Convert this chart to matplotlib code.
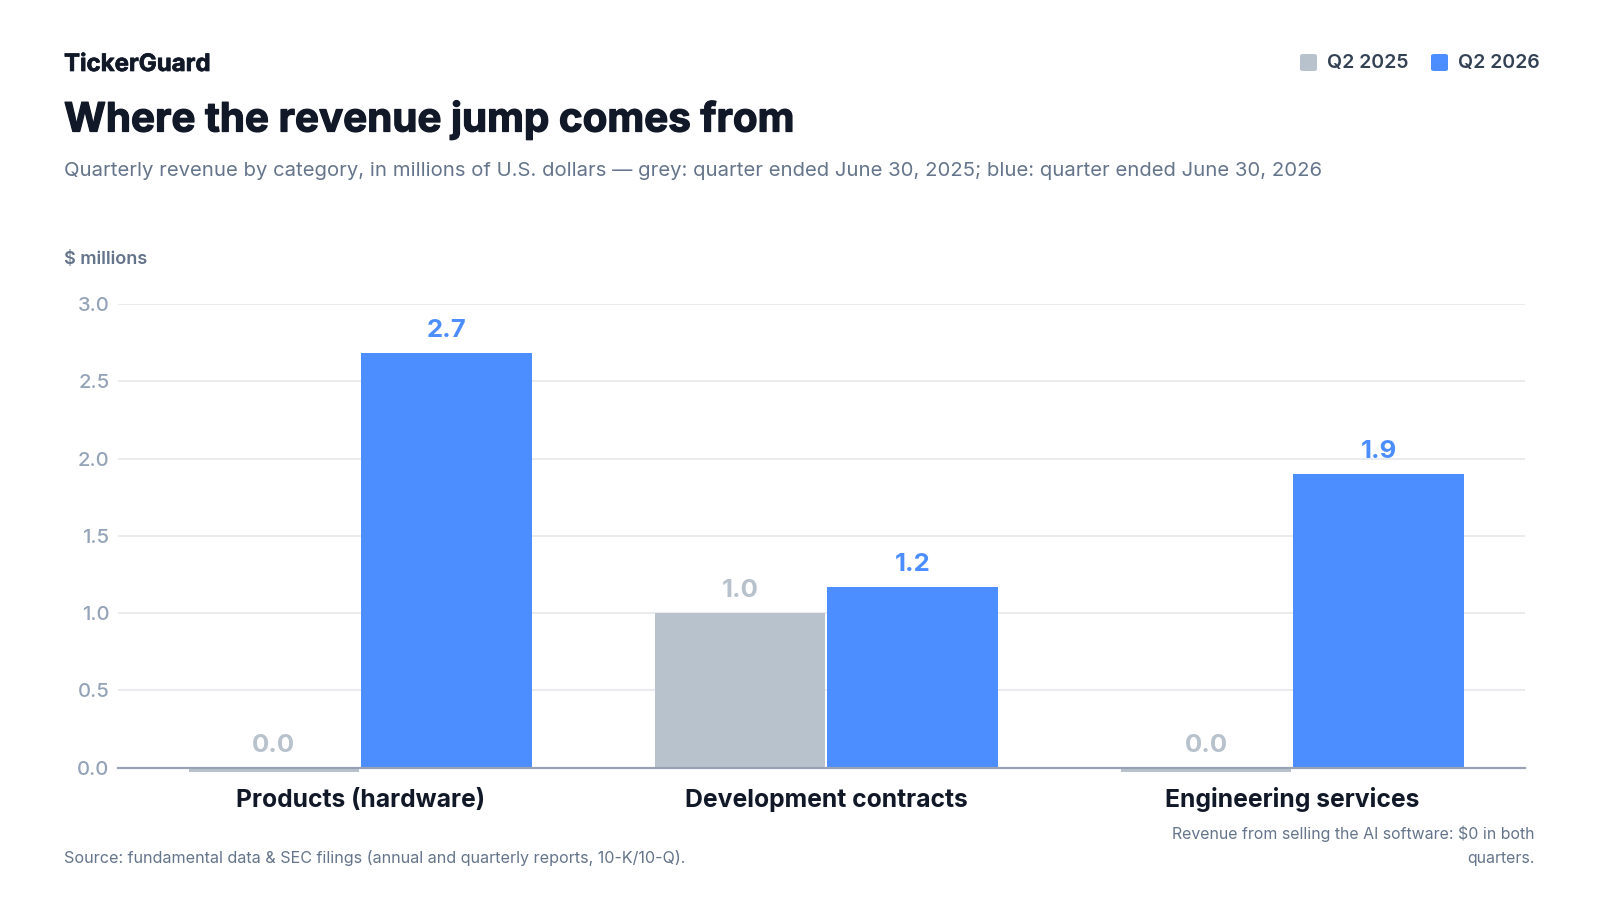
import matplotlib
matplotlib.use("Agg")
import matplotlib.pyplot as plt
import matplotlib.patheffects as pe
import numpy as np

categories = ["Products (hardware)", "Development contracts", "Engineering services"]
q2_2025 = [0.0, 1.0, 0.0]
q2_2026 = [2.68, 1.17, 1.9]
series_names = ["Q2 2025", "Q2 2026"]
yticks = [0.0, 0.5, 1.0, 1.5, 2.0, 2.5, 3.0]

GREY = "#B8C2CC"
BLUE = "#4C8DFF"
DARK = "#111827"
MUTED = "#64748B"
TICK = "#94A3B8"

plt.rcParams["font.family"] = ["Inter", "DejaVu Sans"]

fig = plt.figure(figsize=(16, 9), dpi=100)
ax = fig.add_axes([0.0736, 0.147, 0.8798, 0.5153])

x = np.arange(len(categories))
w = 0.366
gap = 0.0022
# zero values are shown as a thin stub just below the baseline
stub = 0.03
grey_disp = [v if v > 0 else -stub for v in q2_2025]
blue_disp = [v if v > 0 else -stub for v in q2_2026]
b1 = ax.bar(x - w / 2 - gap, grey_disp, width=w, color=GREY, linewidth=0, zorder=2)
b2 = ax.bar(x + w / 2 + gap, blue_disp, width=w, color=BLUE, linewidth=0, zorder=2)
for r in list(b1) + list(b2):
    r.set_clip_on(False)

for rects, vals, col in ((b1, q2_2025, GREY), (b2, q2_2026, BLUE)):
    for rect, v in zip(rects, vals):
        ax.annotate(f"{v:.1f}", (rect.get_x() + rect.get_width() / 2, max(v, 0)), xytext=(0, 8),
                    textcoords="offset points", ha="center", va="bottom",
                    fontsize=18.5, fontweight="bold", color=col, annotation_clip=False)

ax.set_xlim(-0.52, 2.5)
ax.set_ylim(0, 3.0)
ax.set_yticks(yticks)
ax.set_yticklabels([f"{t:.1f}" for t in yticks])
ax.tick_params(axis="y", length=0, pad=6, labelsize=14.6, labelcolor=TICK)
for lab in ax.get_yticklabels():
    lab.set_fontweight("medium")
ax.set_xticks(x)
ax.set_xticklabels(categories)
ax.tick_params(axis="x", length=0, pad=28.5, labelsize=17.8, labelcolor=DARK)
for lab in ax.get_xticklabels():
    lab.set_fontweight("bold")
    lab.set_verticalalignment("baseline")
ax.grid(axis="y", color="#E5E7EB", linewidth=1.2, zorder=0)
ax.set_axisbelow(True)
for s in ["top", "right", "left"]:
    ax.spines[s].set_visible(False)
ax.spines["bottom"].set_color("#98A2B3")
ax.spines["bottom"].set_linewidth(1.6)
ax.spines["bottom"].set_zorder(3)

# Header texts
fig.text(0.04, 1 - 71 / 900, "TickerGuard", fontsize=17.3, fontweight="bold", color=DARK, va="baseline", ha="left",
         path_effects=[pe.withStroke(linewidth=0.5, foreground=DARK)])
fig.text(0.04, 1 - 131.5 / 900, "Where the revenue jump comes from", fontsize=29.05, fontweight="bold",
         color=DARK, va="baseline", ha="left",
         path_effects=[pe.withStroke(linewidth=0.9, foreground=DARK)])
fig.text(0.04, 1 - 171 / 900,
         "Quarterly revenue by category, in millions of U.S. dollars \u2014 grey: quarter ended June 30, 2025; blue: quarter ended June 30, 2026",
         fontsize=14.6, color=MUTED, va="center", ha="left")
fig.text(0.04, 1 - 259 / 900, "$ millions", fontsize=13, fontweight="semibold", color=MUTED, va="center", ha="left")

# Legend
fig.patches.append(matplotlib.patches.FancyBboxPatch((1300 / 1600, 1 - 71 / 900), 17 / 1600, 17 / 900,
                   boxstyle="round,pad=0,rounding_size=0.002", transform=fig.transFigure,
                   facecolor=GREY, edgecolor="none"))
fig.text(1327 / 1600, 1 - 63 / 900, series_names[0], fontsize=14, fontweight="semibold", color="#334155", va="center", ha="left")
fig.patches.append(matplotlib.patches.FancyBboxPatch((1431 / 1600, 1 - 71 / 900), 17 / 1600, 17 / 900,
                   boxstyle="round,pad=0,rounding_size=0.002", transform=fig.transFigure,
                   facecolor=BLUE, edgecolor="none"))
fig.text(1458 / 1600, 1 - 63 / 900, series_names[1], fontsize=14, fontweight="semibold", color="#334155", va="center", ha="left")

# Footer
fig.text(0.04, 1 - 858 / 900, "Source: fundamental data & SEC filings (annual and quarterly reports, 10-K/10-Q).",
         fontsize=11.6, color=MUTED, va="center", ha="left")
fig.text(1535 / 1600, 1 - 834 / 900, "Revenue from selling the AI software: $0 in both", fontsize=11.45,
         color=MUTED, va="center", ha="right")
fig.text(1535 / 1600, 1 - 858 / 900, "quarters.", fontsize=11.45, color=MUTED, va="center", ha="right")

fig.savefig("out.png", dpi=100, facecolor="white")
